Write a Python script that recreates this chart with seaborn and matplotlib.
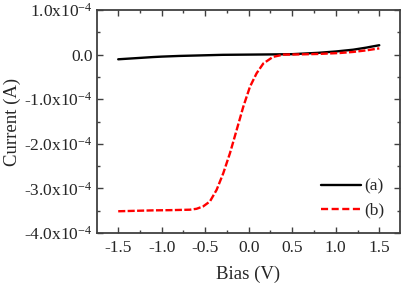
import numpy as np
import pandas as pd
import matplotlib
matplotlib.use("Agg")
import matplotlib.pyplot as plt
from matplotlib.ticker import FuncFormatter, MultipleLocator
import seaborn as sns

# Data (current in units of 1e-4 A)
bias_a = [-1.5, -1.3, -1.1, -1.0, -0.8, -0.6, -0.5, -0.3, 0.0, 0.3, 0.5, 0.6, 0.8, 1.0, 1.05, 1.2, 1.35, 1.4, 1.5]
curr_a = [-0.105, -0.08, -0.055, -0.045, -0.03, -0.02, -0.015, -0.005, 0.0, 0.005, 0.01, 0.02, 0.04, 0.07, 0.08, 0.11, 0.156, 0.175, 0.21]

bias_b = [-1.5, -1.3, -1.1, -0.9, -0.676, -0.6, -0.523, -0.446, -0.369, -0.293, -0.216, -0.139,
          -0.063, 0.014, 0.09, 0.167, 0.28, 0.4, 0.6, 0.8, 1.048, 1.2, 1.355, 1.5]
curr_b = [-3.51, -3.50, -3.49, -3.485, -3.475, -3.455, -3.40, -3.29, -3.03, -2.66, -2.21, -1.69,
          -1.17, -0.72, -0.42, -0.20, -0.05, 0.0, 0.005, 0.015, 0.036, 0.06, 0.096, 0.14]

labels = ["(a)", "(b)"]

sns.set_theme(style="ticks")
plt.rcParams["font.family"] = ["Liberation Serif", "DejaVu Serif"]
plt.rcParams["mathtext.fontset"] = "custom"
plt.rcParams["mathtext.rm"] = "Liberation Serif"
plt.rcParams["mathtext.it"] = "Liberation Serif:italic"
plt.rcParams["axes.unicode_minus"] = False

fig = plt.figure(figsize=(4.02, 2.85), dpi=100)
ax = fig.add_axes([0.241, 0.182, 0.754, 0.783])

df_a = pd.DataFrame({"Bias": bias_a, "Current": np.array(curr_a) * 1e-4})
df_b = pd.DataFrame({"Bias": bias_b, "Current": np.array(curr_b) * 1e-4})

sns.lineplot(data=df_a, x="Bias", y="Current", ax=ax, color="black", lw=1.7,
             sort=False, estimator=None, label=labels[0])
sns.lineplot(data=df_b, x="Bias", y="Current", ax=ax, color="#ff0000", lw=1.7,
             sort=False, estimator=None, label=labels[1])
ax.lines[1].set_dashes((3, 1.0))

ax.set_xlim(-1.745, 1.738)
ax.set_ylim(-4e-4, 1e-4)
ax.xaxis.set_major_locator(MultipleLocator(0.5))
ax.xaxis.set_minor_locator(MultipleLocator(0.25))
ax.yaxis.set_major_locator(MultipleLocator(1e-4))
ax.yaxis.set_minor_locator(MultipleLocator(0.5e-4))

def yfmt(v, pos):
    m = v / 1e-4
    if abs(m) < 1e-9:
        return "0.0"
    return "%.1fx10$^{-4}$" % m

ax.xaxis.set_major_formatter(FuncFormatter(lambda v, p: "%.1f" % v))
ax.yaxis.set_major_formatter(FuncFormatter(yfmt))

ax.tick_params(which="both", direction="in", top=True, right=True, color="#404040", labelsize=12.5, width=1.0)
ax.tick_params(which="major", length=4, pad=5)
ax.tick_params(which="minor", length=2)
ax.tick_params(axis="y", which="major", pad=3)
for s in ax.spines.values():
    s.set_color("#404040")
    s.set_linewidth(1.3)

ax.set_xlabel("Bias (V)", fontsize=13.5, labelpad=7)
ax.set_ylabel("Current (A)", fontsize=13.5, labelpad=2)

leg = ax.legend(loc="lower right", bbox_to_anchor=(1.0, -0.005), frameon=False, fontsize=12.5,
                handlelength=2.3, handletextpad=0.2, labelspacing=0.45)
leg.get_lines()[1].set_dashes((3, 1.5))

fig.savefig("out.png", dpi=100)
